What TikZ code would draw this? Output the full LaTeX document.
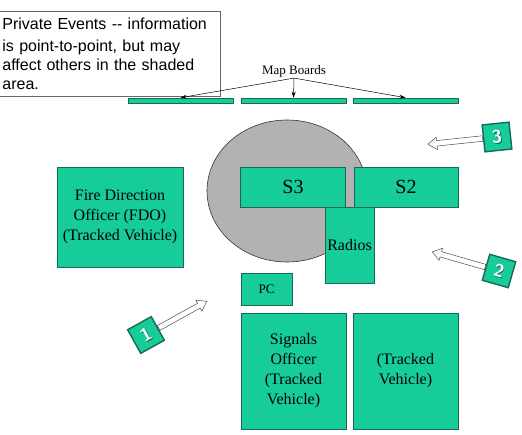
\documentclass[tikz,border=0pt]{standalone}
\usepackage{fontspec}
\setmainfont{Liberation Serif}
\newfontfamily\notefont{Liberation Sans}
\usetikzlibrary{shapes.arrows,shapes.geometric,arrows.meta}
\definecolor{boxgreen}{RGB}{22,204,153}
\definecolor{boxedge}{RGB}{25,105,85}
\definecolor{zonegray}{RGB}{178,178,178}
\newcommand{\tagdigit}[1]{\makebox[0pt]{\textcolor{boxedge}{\kern1.6pt\raisebox{-1.2pt}{#1}}}\makebox[0pt]{#1}}

\begin{document}
\begin{tikzpicture}[x=1pt, y=-1pt,
    station/.style={draw=boxedge, fill=boxgreen, line width=0.8pt, inner sep=0pt, align=center, font=\fontsize{16}{20}\selectfont},
    board/.style={draw=boxedge, fill=boxgreen, line width=0.6pt, minimum width=105pt, minimum height=5pt, inner sep=0pt},
    numtag/.style={draw=boxedge, fill=boxgreen, line width=1.4pt, minimum size=27pt, inner sep=0pt, text=white, font=\sffamily\bfseries\fontsize{18}{18}\selectfont},
    pushto/.style={single arrow, draw=black!70, fill=white, line width=0.5pt, inner sep=2.5pt, minimum height=55pt, single arrow head extend=3.5pt, single arrow tip angle=70, anchor=tail}]
        \useasboundingbox (0,0) rectangle (522,435);

        % shaded area
        \node[ellipse, draw=black!80, fill=zonegray, line width=0.6pt, minimum width=160pt, minimum height=142pt] (zone) at (287,191) {};

        % note
        \node[draw=black!60, fill=white, line width=0.8pt, anchor=north west, text width=213pt, inner xsep=5pt, inner ysep=6.5pt, align=left, font=\notefont\fontsize{16}{19}\selectfont] (note) at (-3,11) {\vspace*{3.5pt}Private Events -{}- information\\ is point-to-point, but may\\ affect others in the shaded\\ area.};

        % map boards
        \node[board] (B1) at (180.5,100.5) {};
        \node[board] (B2) at (293.5,100.5) {};
        \node[board] (B3) at (405.5,100.5) {};
        \node[inner sep=1pt, font=\fontsize{13}{13}\selectfont] (MB) at (294,71) {Map Boards};
        \draw[-{Stealth[length=6pt,width=4pt]}, line width=0.5pt] (MB.south) -- (B1.north);
        \draw[-{Stealth[length=6pt,width=4pt]}, line width=0.5pt] (MB.south) -- (B2.north);
        \draw[-{Stealth[length=6pt,width=4pt]}, line width=0.5pt] (MB.south) -- (B3.north);

        % vehicles and posts
        \node[station, minimum width=126pt, minimum height=100pt] (FDO) at (120,217) {Fire Direction\\ Officer (FDO)\\ (Tracked Vehicle)};
        \node[station, minimum width=105pt, minimum height=40pt, font=\fontsize{20}{20}\selectfont] (S3) at (293,187) {S3};
        \node[station, minimum width=104pt, minimum height=40pt, font=\fontsize{20}{20}\selectfont] (S2) at (406,187) {S2};
        \node[station, minimum width=49pt, minimum height=76pt] (RAD) at (349.5,245) {Radios};
        \node[station, minimum width=51pt, minimum height=32pt, font=\fontsize{13}{13}\selectfont] (PC) at (266.5,289) {PC};
        \node[station, minimum width=105pt, minimum height=116pt] (SO) at (293.5,371) {Signals\\ Officer\\ (Tracked\\ Vehicle)};
        \node[station, minimum width=105pt, minimum height=116pt] (TV) at (405.5,371) {(Tracked\\ Vehicle)};

        % numbered entry points
        \node[numtag, rotate=6] (N3) at (497,137) {\tagdigit{3}};
        \node[pushto, rotate=186] (A3) at (N3.west) {};
        \node[numtag, rotate=-16] (N2) at (499,271) {\tagdigit{2}};
        \node[pushto, rotate=164] (A2) at (N2.west) {};
        \node[numtag, rotate=29] (N1) at (146,335) {\tagdigit{1}};
        \node[pushto, rotate=29] (A1) at (N1.east) {};
\end{tikzpicture}
\end{document}
